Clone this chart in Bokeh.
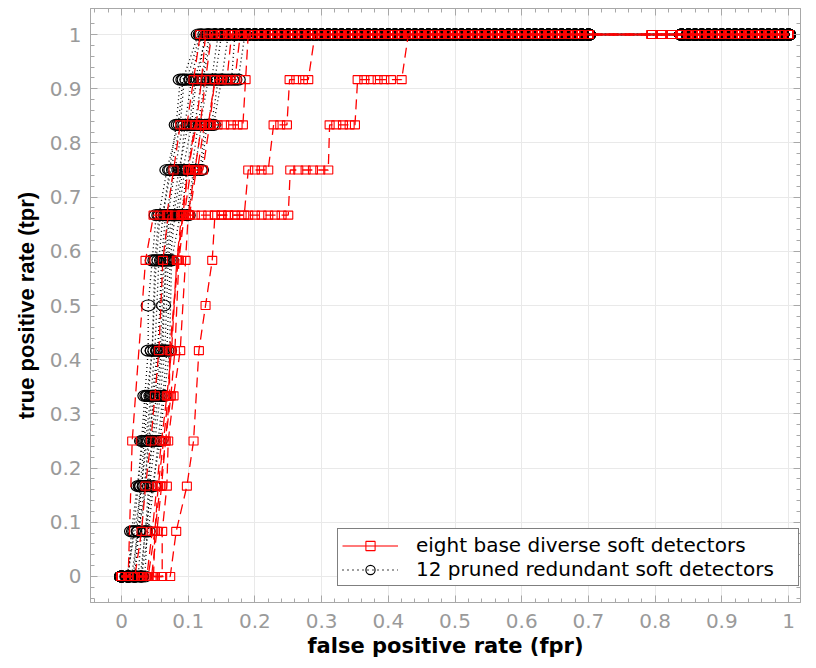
from bokeh.plotting import figure
from bokeh.models import Range1d, FixedTicker, LinearAxis, Legend, LegendItem
from bokeh.embed import file_html
from bokeh.resources import INLINE

# ---------------- data ----------------
TPR_LEVELS = [0.0, 0.0833, 0.1667, 0.25, 0.3333, 0.4167, 0.5, 0.5833, 0.6667, 0.75, 0.8333, 0.9167, 1.0]

# shared tail of markers once a curve has reached tpr = 1
TOP_FPR = [0.12, 0.13, 0.14, 0.15, 0.16, 0.17, 0.18, 0.19, 0.20, 0.21, 0.22, 0.23, 0.24, 0.25,
           0.26, 0.27, 0.28, 0.29, 0.30, 0.31, 0.32, 0.33, 0.34, 0.35, 0.36, 0.37, 0.38, 0.39,
           0.40, 0.41, 0.42, 0.43, 0.44, 0.45, 0.46, 0.47, 0.48, 0.49, 0.50, 0.51, 0.52, 0.53,
           0.54, 0.55, 0.56, 0.57, 0.58, 0.59, 0.60, 0.61, 0.62, 0.63, 0.64, 0.65, 0.66, 0.67,
           0.68, 0.69, 0.70, 0.84, 0.85, 0.86, 0.87, 0.88, 0.89, 0.90, 0.91, 0.92, 0.93, 0.94,
           0.95, 0.96, 0.97, 0.98, 0.99, 1.00]
RED_TOP_EXTRA = [0.795, 0.81, 0.825]

# 12 pruned redundant soft detectors (fpr, tpr level index)
B01_FPR = [0.000, 0.010, 0.018, 0.025, 0.030, 0.035, 0.040, 0.040, 0.046, 0.052, 0.062, 0.072, 0.082, 0.088, 0.098, 0.118]
B01_LVL = [0, 0, 1, 2, 3, 4, 5, 6, 7, 8, 8, 9, 10, 11, 11, 12]
B02_FPR = [0.000, 0.010, 0.018, 0.028, 0.034, 0.040, 0.046, 0.052, 0.058, 0.068, 0.078, 0.088, 0.095, 0.105, 0.115, 0.125]
B02_LVL = [0, 0, 0, 2, 3, 4, 5, 7, 8, 8, 9, 9, 10, 11, 11, 12]
B03_FPR = [0.000, 0.010, 0.020, 0.026, 0.034, 0.042, 0.048, 0.055, 0.060, 0.066, 0.076, 0.086, 0.100, 0.110, 0.120, 0.132]
B03_LVL = [0, 0, 0, 1, 2, 3, 4, 5, 7, 8, 8, 9, 10, 10, 11, 12]
B04_FPR = [0.000, 0.010, 0.020, 0.028, 0.036, 0.045, 0.052, 0.060, 0.063, 0.068, 0.075, 0.085, 0.095, 0.105, 0.115, 0.125, 0.135, 0.145]
B04_LVL = [0, 0, 0, 0, 1, 3, 4, 5, 6, 7, 8, 8, 9, 9, 10, 11, 11, 12]
B05_FPR = [0.000, 0.010, 0.020, 0.030, 0.040, 0.048, 0.055, 0.062, 0.068, 0.073, 0.080, 0.090, 0.100, 0.110, 0.120, 0.130, 0.140, 0.150, 0.160]
B05_LVL = [0, 0, 0, 0, 1, 2, 3, 4, 5, 7, 8, 8, 8, 9, 10, 10, 11, 11, 12]
B06_FPR = [0.000, 0.010, 0.020, 0.030, 0.035, 0.042, 0.050, 0.058, 0.065, 0.070, 0.078, 0.090, 0.100, 0.110, 0.120, 0.128, 0.138, 0.150, 0.160, 0.170, 0.175, 0.185]
B06_LVL = [0, 0, 0, 0, 0, 2, 3, 4, 5, 7, 8, 9, 9, 9, 9, 10, 10, 11, 11, 11, 11, 12]
B07_FPR = [0.000, 0.008, 0.020, 0.030, 0.036, 0.044, 0.050, 0.056, 0.062, 0.074, 0.088, 0.094, 0.104, 0.120]
B07_LVL = [0, 0, 1, 2, 3, 4, 5, 7, 8, 9, 10, 11, 11, 12]
B08_FPR = [0.000, 0.010, 0.015, 0.025, 0.038, 0.047, 0.055, 0.062, 0.066, 0.072, 0.082, 0.092, 0.105, 0.112, 0.122, 0.135]
B08_LVL = [0, 0, 0, 1, 2, 3, 4, 5, 7, 8, 8, 9, 10, 11, 11, 12]
B09_FPR = [0.000, 0.010, 0.020, 0.025, 0.035, 0.040, 0.050, 0.058, 0.064, 0.070, 0.080, 0.092, 0.102, 0.110, 0.128]
B09_LVL = [0, 0, 0, 0, 2, 3, 4, 5, 7, 8, 9, 10, 10, 11, 12]
B10_FPR = [0.000, 0.010, 0.020, 0.030, 0.035, 0.058, 0.064, 0.072, 0.075, 0.088, 0.098, 0.108, 0.118, 0.125, 0.135, 0.145, 0.155, 0.165, 0.170]
B10_LVL = [0, 0, 0, 0, 1, 3, 4, 5, 7, 8, 8, 9, 9, 10, 10, 11, 11, 11, 12]
B11_FPR = [0.000, 0.010, 0.015, 0.032, 0.038, 0.046, 0.050, 0.056, 0.068, 0.085, 0.092, 0.115]
B11_LVL = [0, 0, 1, 3, 4, 5, 7, 8, 9, 10, 11, 12]
B12_FPR = [0.000, 0.010, 0.020, 0.030, 0.038, 0.046, 0.054, 0.062, 0.070, 0.080, 0.090, 0.098, 0.110, 0.118, 0.130, 0.140, 0.150]
B12_LVL = [0, 0, 0, 2, 3, 4, 5, 7, 8, 8, 8, 9, 10, 10, 11, 11, 12]

# eight base diverse soft detectors
R1_FPR = [0.000, 0.010, 0.016, 0.036, 0.048, 0.058, 0.068, 0.078, 0.088, 0.098, 0.108, 0.118]
R1_LVL = [0, 0, 3, 7, 8, 8, 8, 9, 10, 10, 11, 12]
R2_FPR = [0.000, 0.010, 0.020, 0.030, 0.036, 0.044, 0.050, 0.056, 0.062, 0.070, 0.080, 0.090, 0.100, 0.112, 0.120, 0.126]
R2_LVL = [0, 0, 0, 1, 2, 3, 4, 5, 7, 8, 8, 8, 9, 10, 11, 12]
R3_FPR = [0.000, 0.010, 0.020, 0.030, 0.040, 0.048, 0.050, 0.055, 0.063, 0.070, 0.074, 0.083, 0.092, 0.102, 0.112, 0.122,
          0.132, 0.140, 0.150, 0.160, 0.170, 0.178]
R3_LVL = [0, 0, 0, 0, 0, 0, 1, 2, 3, 4, 5, 7, 8, 8, 9, 9, 10, 11, 11, 11, 11, 12]
R4_FPR = [0.000, 0.010, 0.020, 0.030, 0.040, 0.050, 0.061, 0.061, 0.068, 0.070, 0.078, 0.088, 0.096, 0.100, 0.110, 0.120,
          0.130, 0.140, 0.150, 0.160, 0.170, 0.184, 0.190, 0.200, 0.210, 0.220, 0.228, 0.238, 0.248, 0.252, 0.262, 0.272,
          0.280, 0.290]
R4_LVL = [0, 0, 0, 0, 0, 0, 0, 1, 2, 3, 4, 5, 7, 8, 8, 8, 8, 8, 8, 8, 8, 8, 9, 9, 9, 9, 10, 10, 10, 11, 11, 11, 11, 12]
R5_FPR = [0.000, 0.010, 0.020, 0.030, 0.040, 0.050, 0.060, 0.073, 0.082, 0.098, 0.108, 0.116, 0.126, 0.136, 0.140, 0.150,
          0.160, 0.170, 0.180, 0.190, 0.200, 0.210, 0.220, 0.230, 0.240, 0.250, 0.253, 0.265, 0.276, 0.287, 0.298, 0.310,
          0.312, 0.322, 0.332, 0.342, 0.350, 0.354, 0.364, 0.374, 0.384, 0.394, 0.404, 0.420, 0.430]
R5_LVL = [0, 0, 0, 0, 0, 0, 0, 0, 1, 2, 3, 5, 6, 7, 8, 8, 8, 8, 8, 8, 8, 8, 8, 8, 8, 8, 9, 9, 9, 9, 9, 9,
          10, 10, 10, 10, 10, 11, 11, 11, 11, 11, 11, 11, 12]
R6_FPR = [0.000, 0.010, 0.020, 0.030, 0.038, 0.046, 0.053, 0.060, 0.068, 0.075, 0.083, 0.090, 0.100, 0.110, 0.120, 0.130,
          0.140, 0.150, 0.158, 0.165]
R6_LVL = [0, 0, 0, 0, 0, 1, 2, 3, 4, 5, 7, 8, 8, 9, 10, 10, 11, 11, 11, 12]
R7_FPR = [0.000, 0.010, 0.020, 0.030, 0.040, 0.050, 0.058, 0.066, 0.074, 0.080, 0.086, 0.094, 0.104, 0.114, 0.124, 0.134,
          0.144, 0.154, 0.164, 0.174, 0.182, 0.186, 0.190]
R7_LVL = [0, 0, 0, 0, 0, 1, 2, 3, 4, 5, 7, 8, 9, 9, 10, 10, 10, 10, 10, 10, 10, 11, 12]
R8_FPR = [0.000, 0.010, 0.020, 0.030, 0.040, 0.045, 0.053, 0.060, 0.066, 0.072, 0.072, 0.085, 0.092, 0.100, 0.110, 0.118,
          0.126, 0.135]
R8_LVL = [0, 0, 0, 0, 0, 0, 1, 2, 3, 4, 5, 7, 8, 9, 10, 10, 11, 12]

BLACK_CURVES = [(B01_FPR, B01_LVL), (B02_FPR, B02_LVL), (B03_FPR, B03_LVL), (B04_FPR, B04_LVL),
                (B05_FPR, B05_LVL), (B06_FPR, B06_LVL), (B07_FPR, B07_LVL), (B08_FPR, B08_LVL),
                (B09_FPR, B09_LVL), (B10_FPR, B10_LVL), (B11_FPR, B11_LVL), (B12_FPR, B12_LVL)]
RED_CURVES = [(R1_FPR, R1_LVL), (R2_FPR, R2_LVL), (R3_FPR, R3_LVL), (R4_FPR, R4_LVL),
              (R5_FPR, R5_LVL), (R6_FPR, R6_LVL), (R7_FPR, R7_LVL), (R8_FPR, R8_LVL)]

TICKS = [0.0, 0.1, 0.2, 0.3, 0.4, 0.5, 0.6, 0.7, 0.8, 0.9, 1.0]
TICK_LABELS = ["0", "0.1", "0.2", "0.3", "0.4", "0.5", "0.6", "0.7", "0.8", "0.9", "1"]
LEGEND_LABELS = ["eight base diverse soft detectors", "12 pruned redundant soft detectors"]
X_LABEL = "false positive rate (fpr)"
Y_LABEL = "true positive rate (tpr)"


def build(curves, top):
    xs_all, ys_all, px, py = [], [], [], []
    for fpr, lvl in curves:
        tail = [t for t in top if t > fpr[-1] + 0.004]
        xs = list(fpr) + tail
        ys = [TPR_LEVELS[k] for k in lvl] + [1.0] * len(tail)
        xs_all.append(xs)
        ys_all.append(ys)
        px += xs
        py += ys
    return xs_all, ys_all, px, py


bx, by, bpx, bpy = build(BLACK_CURVES, TOP_FPR)
rx, ry, rpx, rpy = build(RED_CURVES, sorted(TOP_FPR + RED_TOP_EXTRA))

# ---------------- figure ----------------
AXC = "#a8a8a8"
p = figure(width=816, height=668, output_backend="svg", toolbar_location=None,
           x_range=Range1d(-0.0465, 1.018), y_range=Range1d(-0.048, 1.048),
           min_border_left=90, min_border_right=16, min_border_top=8, min_border_bottom=66,
           background_fill_color="white", border_fill_color="white")
p.outline_line_color = AXC

top_ax = LinearAxis()
right_ax = LinearAxis()
p.add_layout(top_ax, "above")
p.add_layout(right_ax, "right")
bottom_ax = p.below[0]
left_ax = p.left[0]

MINOR = [round(-0.04 + 0.02 * i, 2) for i in range(54)]
for ax in (bottom_ax, left_ax, top_ax, right_ax):
    ax.ticker = FixedTicker(ticks=TICKS, minor_ticks=MINOR)
    ax.major_tick_in = 7
    ax.major_tick_out = 0
    ax.minor_tick_in = 4
    ax.minor_tick_out = 0
    ax.axis_line_color = AXC
    ax.major_tick_line_color = AXC
    ax.minor_tick_line_color = AXC
    ax.major_label_text_color = "#9a9a9a"
    ax.major_label_text_font = "DejaVu Sans"
    ax.major_label_text_font_size = "20px"

for ax in (bottom_ax, left_ax):
    ax.major_label_overrides = {t: l for t, l in zip(TICKS, TICK_LABELS)}
for ax in (top_ax, right_ax):
    ax.major_label_overrides = {t: "" for t in TICKS}
    ax.major_label_text_font_size = "1px"
    ax.major_label_standoff = 0

bottom_ax.major_label_standoff = 11
left_ax.major_label_standoff = 9
bottom_ax.axis_label = X_LABEL
bottom_ax.axis_label_text_font = "DejaVu Sans"
bottom_ax.axis_label_text_font_style = "bold"
bottom_ax.axis_label_text_font_size = "21px"
bottom_ax.axis_label_text_color = "black"
bottom_ax.axis_label_standoff = 3
left_ax.axis_label = Y_LABEL
left_ax.axis_label_text_font = "Liberation Sans"
left_ax.axis_label_text_font_style = "bold"
left_ax.axis_label_text_font_size = "22px"
left_ax.axis_label_text_color = "black"
left_ax.axis_label_standoff = 8

p.xgrid.grid_line_color = "#e9e9e9"
p.ygrid.grid_line_color = "#e9e9e9"
p.xgrid.ticker = FixedTicker(ticks=TICKS)
p.ygrid.ticker = FixedTicker(ticks=TICKS)

# black dotted curves with circles
p.multi_line(xs=bx, ys=by, line_color="black", line_width=1.3, line_dash="1 3")
p.ellipse(x=bpx, y=bpy, width=14, height=11, width_units="screen", height_units="screen",
          fill_color=None, line_color="black", line_width=1.2)
# red dashed curves with squares
p.multi_line(xs=rx, ys=ry, line_color="#ff0000", line_width=1.3, line_dash="10 6")
p.rect(x=rpx, y=rpy, width=9, height=8, width_units="screen", height_units="screen",
       fill_color=None, line_color="#ff0000", line_width=1.1)

# legend proxies (single point outside the visible range)
lr_line = p.line([-5, -4], [-5, -5], line_color="#ff4d4d", line_width=1.3)
lr_mark = p.scatter([-5], [-5], marker="square", size=9, fill_color=None, line_color="#ff0000", line_width=1.1)
lb_line = p.line([-5, -4], [-5, -5], line_color="black", line_width=1.3, line_dash="1 4")
lb_mark = p.scatter([-5], [-5], marker="circle", size=12, fill_color=None, line_color="black", line_width=1.2)

legend = Legend(items=[LegendItem(label=LEGEND_LABELS[0], renderers=[lr_line, lr_mark]),
                       LegendItem(label=LEGEND_LABELS[1], renderers=[lb_line, lb_mark])],
                location=(247, 16))
legend.border_line_color = "black"
legend.border_line_width = 1
legend.background_fill_color = "white"
legend.background_fill_alpha = 1
legend.padding = 4
legend.margin = 0
legend.spacing = 0
legend.glyph_width = 56
legend.glyph_height = 23
legend.label_height = 23
legend.label_standoff = 18
legend.label_width = 378
legend.label_text_font = "DejaVu Sans"
legend.label_text_font_size = "20px"
legend.label_text_color = "black"
p.add_layout(legend)

open("out.html", "w").write(file_html(p, INLINE))
